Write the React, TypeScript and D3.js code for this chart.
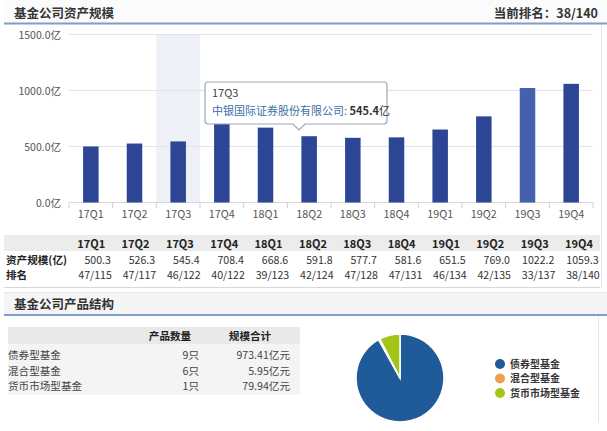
import React from "react";
import * as d3 from "d3";

const quarters = ["17Q1","17Q2","17Q3","17Q4","18Q1","18Q2","18Q3","18Q4","19Q1","19Q2","19Q3","19Q4"];
const assetValues = [500.3,526.3,545.4,708.4,668.6,591.8,577.7,581.6,651.5,769.0,1022.2,1059.3];
const rankLabels = ["47/115","47/117","46/122","40/122","39/123","42/124","47/128","47/131","46/134","42/135","33/137","38/140"];
const yTicks = [0, 500, 1000, 1500];

const fundTypes = ["债券型基金","混合型基金","货币市场型基金"];
const fundCounts = [9, 6, 1];
const fundScales = [973.41, 5.95, 79.94];
const fundColors = ["#1f5b99", "#f0a04b", "#a2c516"];

const FONT = "'Noto Sans CJK SC', 'Noto Sans', sans-serif";

export default function App() {
  const W = 607, H = 431;
  const plotL = 69, plotR = 593, plotT = 34.5, plotB = 202.5;
  const x = d3.scaleBand<string>().domain(quarters).range([plotL, plotR]).padding(0);
  const y = d3.scaleLinear().domain([0, 1500]).range([plotB, plotT]);
  const bw = 15.5;
  const hl = "17Q3";

  // table columns
  const colL = 68.5, colW = 44.35;

  // pie
  const pie = d3.pie<number>().sort(null).startAngle(0).endAngle(2 * Math.PI)(fundScales);
  const arc = d3.arc<d3.PieArcDatum<number>>().innerRadius(0).outerRadius(44);
  const pcx = 400, pcy = 378;

  // tooltip
  const ttX = 205, ttY = 82, ttW = 182, ttH = 42, ptX = 299;
  const ttPath = `M${ttX + 3},${ttY} H${ttX + ttW - 3} Q${ttX + ttW},${ttY} ${ttX + ttW},${ttY + 3} V${ttY + ttH - 3} Q${ttX + ttW},${ttY + ttH} ${ttX + ttW - 3},${ttY + ttH} H${ptX + 6} L${ptX},${ttY + ttH + 6} L${ptX - 6},${ttY + ttH} H${ttX + 3} Q${ttX},${ttY + ttH} ${ttX},${ttY + ttH - 3} V${ttY + 3} Q${ttX},${ttY} ${ttX + 3},${ttY} Z`;

  const tf = 10.6; // table font size
  const r1 = 263.5, r2 = 279;

  return (
    <svg width={W} height={H} style={{ position: "absolute", left: 0, top: 0, background: "#fff" }} fontFamily={FONT}>
      {/* Section 1 header */}
      <rect x={4} y={0} width={603} height={23} fill="#fbfbfb" />
      <text x={14} y={18} fontSize={12.5} fontWeight="bold" fill="#333">基金公司资产规模</text>
      <text x={598} y={18} fontSize={12.5} fontWeight="bold" fill="#333" textAnchor="end">当前排名：38/140</text>
      <line x1={4} x2={607} y1={23.5} y2={23.5} stroke="#7f9dc9" strokeWidth={2} />
      <line x1={601.5} x2={601.5} y1={25} y2={289} stroke="#e2e2e2" />

      {/* highlight band */}
      <rect x={x(hl)!} y={plotT} width={x.bandwidth()} height={plotB - plotT} fill="#eef1f8" />

      {/* gridlines */}
      {yTicks.map(t => (
        <g key={t}>
          <line x1={plotL} x2={plotR} y1={y(t)} y2={y(t)} stroke={t === 0 ? "#d6d6d6" : "#e3e3e3"} />
          <text x={61} y={y(t) + 4} fontSize={10.5} fill="#555" textAnchor="end">{t.toFixed(1)}亿</text>
        </g>
      ))}

      {/* bars */}
      {quarters.map((q, i) => (
        <rect key={q} x={x(q)! + x.bandwidth() / 2 - bw / 2} y={y(assetValues[i])} width={bw}
          height={plotB - y(assetValues[i])} fill={q === "19Q3" ? "#4560ad" : "#2c4594"} />
      ))}

      {/* x ticks and labels */}
      {quarters.map((q, i) => (
        <g key={q}>
          <line x1={x(q)!} x2={x(q)!} y1={plotB} y2={plotB + 6} stroke="#d0d0d0" />
          {i === quarters.length - 1 && <line x1={plotR} x2={plotR} y1={plotB} y2={plotB + 6} stroke="#d0d0d0" />}
          <text x={x(q)! + x.bandwidth() / 2} y={218} fontSize={10.8} fill="#555" textAnchor="middle">{q}</text>
        </g>
      ))}

      {/* tooltip */}
      <path d={ttPath} fill="#fff" fillOpacity={0.96} stroke="#9aa7b8" strokeWidth={1.2} />
      <text x={ttX + 7} y={ttY + 15} fontSize={11} fill="#444">{hl}</text>
      <text x={ttX + 7} y={ttY + 33} fontSize={11}>
        <tspan fill="#3c6fa8">中银国际证券股份有限公司: </tspan>
        <tspan fill="#333" fontWeight="bold">{assetValues[quarters.indexOf(hl)].toFixed(1)}</tspan>
        <tspan fill="#333">亿</tspan>
      </text>

      {/* data table */}
      <rect x={4} y={235} width={596} height={16} fill="#ececec" />
      {quarters.map((q, i) => {
        const l = colL + i * colW;
        return (
          <g key={q}>
            <text x={l + colW / 2 + 0.5} y={248} fontSize={tf + 0.4} fontWeight="bold" fill="#222" textAnchor="middle">{q}</text>
            <text x={l + colW - 2} y={r1} fontSize={tf} fill="#333" textAnchor="end">{assetValues[i].toFixed(1)}</text>
            <text x={l + colW - 1} y={r2} fontSize={tf} fill="#333" textAnchor="end">{rankLabels[i]}</text>
          </g>
        );
      })}
      <text x={6} y={r1} fontSize={tf} fontWeight="bold" fill="#222">资产规模(亿)</text>
      <text x={6} y={r2} fontSize={tf} fontWeight="bold" fill="#222">排名</text>
      <line x1={4} x2={600} y1={287.5} y2={287.5} stroke="#d8d8d8" />

      {/* Section 2 header */}
      <rect x={4} y={292} width={603} height={22} fill="#f5f5f5" />
      <line x1={4} x2={607} y1={292.5} y2={292.5} stroke="#e8e8e8" />
      <text x={14} y={309} fontSize={12.5} fontWeight="bold" fill="#333">基金公司产品结构</text>
      <line x1={4} x2={607} y1={315} y2={315} stroke="#7f9dc9" strokeWidth={2} />
      <line x1={598.5} x2={598.5} y1={316} y2={422} stroke="#e6e6e6" />

      {/* product table */}
      <rect x={8} y={327} width={292} height={17} fill="#e9e9e9" />
      <rect x={8} y={344} width={292} height={51} fill="#f4f4f4" />
      <text x={170} y={340} fontSize={tf} fontWeight="bold" fill="#222" textAnchor="middle">产品数量</text>
      <text x={250} y={340} fontSize={tf} fontWeight="bold" fill="#222" textAnchor="middle">规模合计</text>
      {fundTypes.map((f, i) => (
        <g key={f}>
          <text x={8} y={359 + i * 15.5} fontSize={tf} fill="#444">{f}</text>
          <text x={199} y={359 + i * 15.5} fontSize={tf} fill="#444" textAnchor="end">{fundCounts[i]}只</text>
          <text x={290} y={359 + i * 15.5} fontSize={tf} fill="#444" textAnchor="end">{fundScales[i].toFixed(2)}亿元</text>
        </g>
      ))}

      {/* pie */}
      <g transform={`translate(${pcx},${pcy})`}>
        {pie.map((d, i) => (
          <path key={i} d={arc(d) || ""} fill={fundColors[i]} stroke="#fff" strokeWidth={1.5} />
        ))}
      </g>

      {/* legend */}
      {fundTypes.map((f, i) => (
        <g key={f}>
          <circle cx={500} cy={364 + i * 14.5} r={5} fill={fundColors[i]} />
          <text x={510} y={367.8 + i * 14.5} fontSize={10} fontWeight="bold" fill="#333">{f}</text>
        </g>
      ))}
    </svg>
  );
}
